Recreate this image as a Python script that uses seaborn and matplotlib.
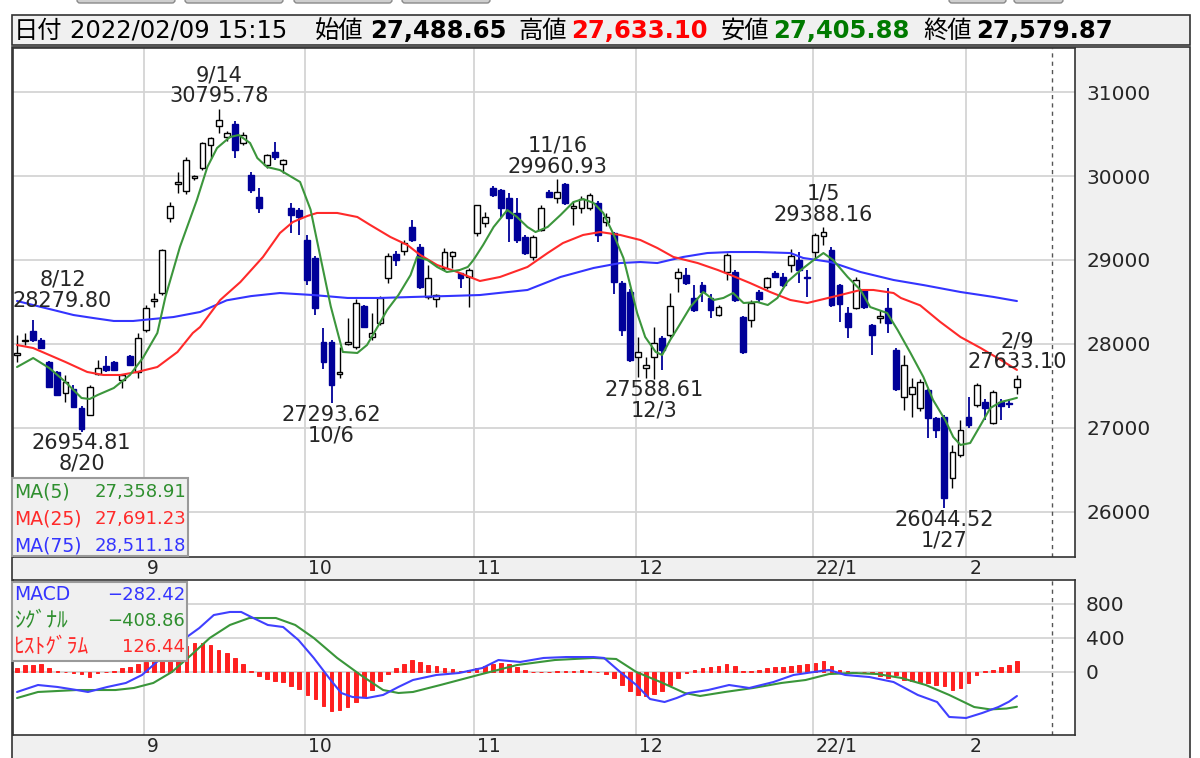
import numpy as np
import pandas as pd
import matplotlib
matplotlib.use('Agg')
import matplotlib.pyplot as plt
import matplotlib.transforms as mtransforms
from matplotlib.patches import Rectangle, FancyBboxPatch
import seaborn as sns

sns.set_style('white')
plt.rcParams['font.family'] = ['DejaVu Sans', 'Noto Sans CJK JP']

# trading days of the Tokyo market (holidays removed)
holidays = ['2021-09-20', '2021-09-23', '2021-11-03', '2021-11-23',
            '2021-12-31', '2022-01-03', '2022-01-10']
dates = pd.bdate_range('2021-08-10', '2022-02-09', freq='C', holidays=holidays)

# daily candles
opens = [27870, 28030, 28160, 28050, 27790, 27667, 27417, 27470, 27240, 27160,
         27640, 27735, 27780, 27575, 27855, 27670, 28170, 28510, 28610, 29500,
         29910, 29820, 29980, 30095, 30370, 30590, 30470, 30620, 30395, 30010,
         29750, 30131, 30286, 30143, 29620, 29595, 29240, 29020, 28024, 28024,
         27640, 28000, 27970, 28450, 28085, 28250, 28790, 29070, 29110, 29390,
         29150, 28560, 28540, 28900, 29050, 28840, 28800, 29320, 29440, 29860,
         29830, 29740, 29560, 29270, 29030, 29360, 29810, 29740, 29900, 29620,
         29620, 29620, 29680, 29450, 29320, 28730, 28620, 27850, 27715, 27840,
         28070, 28110, 28790, 28820, 28550, 28700, 28550, 28345, 28860, 28860,
         28320, 28290, 28620, 28680, 28850, 28800, 28940, 29000, 28800, 29090,
         29280, 29120, 28700, 28370, 28430, 28640, 28230, 28310, 28430, 27930,
         27370, 27400, 27240, 27450, 27120, 27131, 26400, 26680, 27130, 27275,
         27310, 27060, 27310, 27300, 27488.65]
highs = [28107, 28131, 28279.80, 28070, 27800, 27680, 27631, 27512, 27260, 27510,
         27810, 27860, 27800, 27640, 27870, 28130, 28470, 28610, 29130, 29690,
         30050, 30230, 30010, 30400, 30460, 30795.78, 30530, 30650, 30520, 30050,
         29860, 30260, 30400, 30200, 29680, 29620, 29300, 29050, 28190, 28050,
         27960, 28310, 28530, 28470, 28370, 28570, 29080, 29110, 29240, 29480,
         29190, 28940, 28600, 29140, 29110, 28850, 28900, 29660, 29570, 29880,
         29850, 29800, 29740, 29300, 29300, 29650, 29830, 29960.93, 29920, 29700,
         29760, 29800, 29700, 29560, 29330, 28750, 28650, 28080, 27850, 28200,
         28090, 28610, 28900, 28900, 28700, 28740, 28600, 28460, 29080, 28880,
         28330, 28520, 28640, 28800, 28870, 28850, 29130, 29100, 28880, 29320,
         29388.16, 29150, 28720, 28440, 28800, 28660, 28240, 28400, 28670, 27950,
         27870, 27600, 27580, 27470, 27130, 27150, 26800, 27100, 27370, 27530,
         27350, 27450, 27350, 27350, 27633.10]
lows = [27786, 27988, 28020, 27940, 27480, 27380, 27310, 27240, 26954.81, 27150,
        27630, 27670, 27680, 27480, 27740, 27600, 28140, 28440, 28580, 29450,
        29800, 29780, 29950, 30070, 30214, 30510, 30420, 30210, 30370, 29800,
        29560, 30100, 30190, 30040, 29321, 29298, 28700, 28345, 27700, 27293.62,
        27590, 27990, 27940, 28190, 28050, 28230, 28730, 28930, 29060, 29210,
        28650, 28540, 28440, 28880, 28900, 28670, 28440, 29290, 29390, 29750,
        29510, 29210, 29200, 29060, 29000, 29340, 29740, 29680, 29650, 29420,
        29560, 29590, 29210, 29400, 28600, 28100, 27780, 27610, 27600, 27588.61,
        27690, 28080, 28620, 28700, 28380, 28500, 28310, 28330, 28760, 28500,
        27880, 28200, 28500, 28650, 28790, 28680, 28860, 28730, 28560, 29000,
        29180, 28440, 28260, 28070, 28420, 28420, 27870, 28250, 28130, 27440,
        27210, 27130, 27200, 26880, 26880, 26044.52, 26280, 26650, 27000, 27250,
        27100, 27050, 27100, 27240, 27405.88]
closes = [27895, 28048, 28050, 27950, 27490, 27393, 27548, 27250, 26990, 27490,
          27710, 27685, 27690, 27630, 27750, 28070, 28430, 28540, 29120, 29640,
          29930, 30190, 30000, 30390, 30450, 30670, 30510, 30310, 30490, 29835,
          29620, 30250, 30226, 30190, 29536, 29512, 28760, 28430, 27786, 27512,
          27670, 28020, 28490, 28200, 28130, 28550, 29050, 29000, 29200, 29240,
          28680, 28790, 28580, 29100, 29100, 28790, 28880, 29650, 29510, 29770,
          29620, 29500, 29240, 29080, 29270, 29620, 29750, 29810, 29680, 29640,
          29730, 29770, 29300, 29510, 28740, 28170, 27810, 27900, 27750, 28010,
          27930, 28450, 28860, 28730, 28400, 28620, 28400, 28440, 29060, 28520,
          27905, 28490, 28540, 28790, 28800, 28700, 29050, 28880, 28790, 29300,
          29330, 28460, 28480, 28200, 28760, 28440, 28110, 28330, 28250, 27460,
          27750, 27490, 27550, 27120, 26980, 26170, 26720, 26980, 27040, 27510,
          27240, 27430, 27260, 27280, 27579.87]

# moving averages (day index, value)
ma5_pos = [0, 2, 4, 6, 8, 9, 10, 12, 14, 15.6, 17.4, 18.4, 20.2, 22.3, 23.6, 24.8,
           26.4, 27.5, 28.9, 29.8, 31, 32.6, 35.1, 36.4, 37.7, 38.9, 40.4, 42.2,
           43.4, 44.7, 45.9, 47.3, 48.8, 49.6, 50.9, 52.1, 53.3, 54.9, 55.9, 56.6,
           57.8, 59.1, 60.8, 62, 63.3, 64.3, 65.8, 67.4, 69, 70.2, 71.5, 72.7,
           73.9, 75.2, 76.1, 76.9, 77.9, 79.2, 80, 81, 82, 83.5, 85.1, 86.4, 87.6,
           88.8, 90.1, 91.8, 93.1, 94.3, 95.5, 97.2, 98.8, 100, 101.2, 103, 104.6,
           105.8, 107.9, 109.2, 110.8, 112.4, 113.6, 115.1, 116.1, 117, 118.2,
           119.5, 120.7, 122, 123, 124]
ma5_val = [27726, 27833, 27714, 27548, 27357, 27345, 27393, 27476, 27631, 27833,
           28131, 28560, 29155, 29714, 30107, 30333, 30464, 30488, 30393, 30214,
           30107, 30071, 29929, 29600, 29000, 28450, 27905, 27893, 27988, 28202,
           28405, 28583, 28821, 29036, 29000, 28917, 28857, 28881, 28917, 29000,
           29179, 29393, 29595, 29512, 29393, 29333, 29393, 29536, 29690, 29726,
           29679, 29560, 29321, 29024, 28679, 28369, 28083, 27905, 27869, 28048,
           28202, 28440, 28619, 28524, 28548, 28607, 28488, 28500, 28464, 28548,
           28738, 28881, 29000, 29083, 29000, 28798, 28643, 28440, 28369, 28167,
           27893, 27607, 27333, 27095, 26893, 26798, 26821, 27036, 27238, 27310,
           27333, 27358.91]
ma25_pos = [0, 2, 4, 6, 8.7, 10.7, 12.8, 14.9, 17.4, 19.9, 21.8, 22.7, 25.2, 27.7,
            30.5, 32.6, 34.2, 36, 37.2, 39.7, 42.2, 43.8, 46.3, 48.4, 50, 52.1,
            54.6, 57.4, 59.9, 63.3, 65.8, 67.7, 70.2, 72.3, 74.8, 77.3, 79.4, 81.4,
            84.4, 86.9, 88.5, 90.9, 93.4, 95.9, 98, 102.1, 104.6, 106.2, 108.7,
            109.6, 112, 114.5, 117, 119.5, 122, 124]
ma25_val = [27988, 27952, 27869, 27786, 27667, 27631, 27631, 27667, 27726, 27905,
            28131, 28202, 28524, 28738, 29036, 29321, 29452, 29524, 29560, 29560,
            29512, 29417, 29274, 29179, 29060, 28940, 28857, 28750, 28798, 28917,
            29083, 29202, 29298, 29333, 29298, 29238, 29143, 29036, 28964, 28881,
            28821, 28726, 28619, 28524, 28488, 28583, 28643, 28643, 28607, 28548,
            28460, 28262, 28083, 27952, 27810, 27691.23]
ma75_pos = [0, 2, 4.5, 7, 9.4, 12, 14.4, 16.9, 19.4, 22.7, 26, 29, 32.6, 36.7, 41,
            45, 49.1, 53.4, 57.4, 60, 63.3, 67.4, 71.5, 74.8, 77.3, 79.4, 82.6,
            85.6, 88.5, 91.8, 95.9, 97.5, 100.9, 104.6, 108.7, 112.5, 117, 121.1,
            124]
ma75_val = [28512, 28464, 28405, 28345, 28310, 28274, 28274, 28298, 28321, 28381,
            28520, 28570, 28607, 28583, 28548, 28548, 28560, 28571, 28583, 28610,
            28643, 28798, 28905, 28964, 28976, 28964, 29036, 29083, 29095, 29095,
            29083, 29024, 28976, 28857, 28762, 28700, 28619, 28560, 28511.18]

# MACD panel
macd_pos = [0, 2.6, 5, 7.4, 8.8, 11.2, 13.5, 15.5, 17.9, 20.2, 22.6, 24.4, 26.4,
            27.8, 29.3, 31.1, 33, 34.9, 36.8, 38.7, 40.2, 41.6, 43.4, 45.4, 47.3,
            49.1, 52, 54.8, 57.7, 59.7, 62.4, 65.3, 68.1, 71.5, 72.8, 74.8, 76.8,
            78.5, 80.3, 81.8, 83.3, 85.7, 88.3, 90.8, 93.8, 96.3, 98.8, 100.7,
            102.7, 105.7, 108.7, 111.7, 114.1, 115.6, 117.7, 119.7, 121.7, 123, 124]
macd_val = [-235, -153, -176, -212, -235, -176, -129, -35, 165, 353, 517, 670, 706,
            706, 635, 553, 529, 376, 165, -71, -247, -294, -306, -270, -176, -94,
            -35, -12, 47, 141, 118, 165, 176, 176, 165, 0, -153, -318, -353, -306,
            -247, -212, -153, -188, -118, -35, 0, 24, -35, -59, -118, -270, -353,
            -529, -541, -482, -412, -350, -282.42]
signal_pos = [0, 2.6, 7.4, 12.2, 14.5, 16.9, 19.2, 21.6, 23.9, 26.4, 28.8, 32.1,
              34.5, 36.8, 39.7, 42.6, 45.4, 47.3, 49.1, 52.5, 57.2, 62, 66.7, 71.5,
              74.3, 76.8, 79.8, 82.8, 84.7, 87.8, 91.3, 94.8, 97.8, 100.7, 103.7,
              106.7, 109.7, 112.7, 115.6, 118.7, 120.7, 122.7, 124]
signal_val = [-306, -235, -212, -212, -188, -129, 0, 200, 400, 553, 635, 635, 553,
              400, 165, -35, -212, -247, -235, -153, -35, 82, 141, 165, 153, 0,
              -118, -247, -282, -235, -188, -129, -94, -24, -12, -24, -71, -153,
              -270, -412, -440, -430, -408.86]
hist = [43, 82, 82, 90, 43, 12, -4, -16, -27, -55,
        -8, 4, 12, 43, 63, 90, 114, 160, 208, 247,
        270, 306, 337, 337, 318, 263, 220, 160, 90, 12,
        -47, -86, -106, -114, -160, -204, -270, -321, -396, -455,
        -447, -412, -349, -290, -212, -106, -27, 51, 98, 137,
        114, 82, 67, 51, 31, 16, 20, 43, 74, 98,
        106, 90, 59, 20, -4, -4, 0, 8, 8, 8,
        20, 10, 0, -20, -70, -149, -227, -267, -286, -255,
        -227, -149, -70, -12, 27, 43, 59, 74, 98, 74,
        16, 16, 27, 43, 63, 55, 67, 86, 98, 106,
        125, 74, 27, 8, 0, 4, -12, -51, -70, -31,
        -90, -110, -122, -129, -149, -169, -208, -188, -129, -31,
        8, 27, 59, 86, 126.44]

price_ticks = [26000, 27000, 28000, 29000, 30000, 31000]
macd_ticks = [0, 400, 800]
high_marks = [2, 25, 67, 100, 124]
low_marks = [8, 39, 79, 115]

GREEN = '#2f8f2f'
RED = '#ff2a2a'
BLUE = '#3434ff'
NAVY = '#000099'
PANEL = '#f0f0f0'

W, H = 1200, 758
fig = plt.figure(figsize=(W / 100, H / 100), dpi=100)


def px_axes(x0, y0, x1, y1):
    return fig.add_axes([x0 / W, 1 - y1 / H, (x1 - x0) / W, (y1 - y0) / H])


# background frame, header bar, tabs
bg = px_axes(0, 0, W, H)
bg.set_xlim(0, W)
bg.set_ylim(H, 0)
bg.axis('off')
bg.set_zorder(0)
bg.add_patch(Rectangle((12, 47), 1178, 720, fc=PANEL, ec='#333333', lw=1.2))
bg.add_patch(Rectangle((12, 15), 1178, 30, fc=PANEL, ec='#333333', lw=1.2))
for x0, x1 in [(77, 175), (185, 283), (294, 392), (402, 490), (949, 1006), (1014, 1063)]:
    bg.add_patch(FancyBboxPatch((x0, -6), x1 - x0, 9, boxstyle='round,pad=0,rounding_size=3',
                                fc='#cfcfcf', ec='#8a8a8a', lw=1))

n = len(closes)
idx = np.arange(n)
o = np.array(opens)
c = np.array(closes)
up = c >= o

# month boundaries
month_pos = [i for i in range(1, n) if dates[i].month != dates[i - 1].month]
month_lab = [('%d/%d' % (dates[i].year % 100, dates[i].month)) if dates[i].month == 1
             else str(dates[i].month) for i in month_pos]
grid_x = [p - 0.3 for p in month_pos]
xlim = (-0.5, 131.2)
divider = 128.4

# ---------- price panel ----------
ax = px_axes(13, 48, 1075, 557)
ax.set_zorder(1)
ax.set_facecolor('white')
for xg in grid_x:
    ax.axvline(xg, color='#d4d4d4', lw=1.3, zorder=0)
for yt in price_ticks:
    ax.axhline(yt, color='#d4d4d4', lw=1.3, zorder=0)
ax.axvline(divider, color='#555555', lw=1, ls=(0, (3, 3)), zorder=1)

ax.vlines(idx[up], np.array(lows)[up], np.array(highs)[up], color='black', lw=1, zorder=2)
ax.vlines(idx[~up], np.array(lows)[~up], np.array(highs)[~up], color=NAVY, lw=1.3, zorder=2)
body_lo = np.minimum(o, c)
body_h = np.maximum(np.abs(c - o), 6)
ax.bar(idx[up], body_h[up], bottom=body_lo[up], width=0.72, color='white',
       edgecolor='black', linewidth=1, zorder=3)
ax.bar(idx[~up], body_h[~up], bottom=body_lo[~up], width=0.72, color=NAVY,
       edgecolor=NAVY, linewidth=1, zorder=3)

sns.lineplot(x=ma75_pos, y=ma75_val, ax=ax, color=BLUE, lw=1.5, estimator=None, sort=False, zorder=4)
sns.lineplot(x=ma25_pos, y=ma25_val, ax=ax, color=RED, lw=1.5, estimator=None, sort=False, zorder=4)
sns.lineplot(x=ma5_pos, y=ma5_val, ax=ax, color='#3c963c', lw=1.5, estimator=None, sort=False, zorder=4)

for i in high_marks:
    lab = '%d/%d\n%.2f' % (dates[i].month, dates[i].day, highs[i])
    if i < 6:
        ax.annotate(lab, xy=(xlim[0], highs[i]), xytext=(0, 7), textcoords='offset points',
                    ha='left', va='bottom', multialignment='center', fontsize=15,
                    linespacing=1.05, zorder=6)
    else:
        ax.annotate(lab, xy=(i, highs[i]), xytext=(0, 2), textcoords='offset points',
                    ha='center', va='bottom', fontsize=15, linespacing=1.05, zorder=6)
for i in low_marks:
    lab = '%.2f\n%d/%d' % (lows[i], dates[i].month, dates[i].day)
    ax.annotate(lab, xy=(i, lows[i]), xytext=(0, -1), textcoords='offset points',
                ha='center', va='top', fontsize=15, linespacing=1.05, zorder=6)

ax.set_xlim(*xlim)
ax.set_ylim(25464, 31524)
ax.set_xticks([])
ax.yaxis.tick_right()
ax.set_yticks(price_ticks)
ax.set_yticklabels([str(t) for t in price_ticks])
ax.tick_params(axis='y', length=0, pad=8, labelsize=14.5)
ax.set_xlabel('')
ax.set_ylabel('')
for sp in ax.spines.values():
    sp.set_color('#333333')
    sp.set_linewidth(1.2)

# ---------- MACD panel ----------
ax2 = px_axes(13, 580, 1075, 735)
ax2.set_zorder(1)
ax2.set_facecolor('white')
for xg in grid_x:
    ax2.axvline(xg, color='#d4d4d4', lw=1.3, zorder=0)
for yt in macd_ticks:
    ax2.axhline(yt, color='#d4d4d4', lw=1.3, zorder=0)
ax2.axvline(divider, color='#555555', lw=1, ls=(0, (3, 3)), zorder=1)
ax2.bar(idx, hist, width=0.45, color='#ff2020', edgecolor='#ff2020', linewidth=0.7, zorder=2)
sns.lineplot(x=signal_pos, y=signal_val, ax=ax2, color='#3a963a', lw=1.5, estimator=None, sort=False, zorder=3)
sns.lineplot(x=macd_pos, y=macd_val, ax=ax2, color='#4040ff', lw=1.5, estimator=None, sort=False, zorder=3)
ax2.set_xlim(*xlim)
ax2.set_ylim(-741, 1082)
ax2.set_xticks([])
ax2.yaxis.tick_right()
ax2.set_yticks(macd_ticks)
ax2.set_yticklabels([str(t) for t in macd_ticks])
ax2.tick_params(axis='y', length=0, pad=8, labelsize=14.5)
ax2.set_xlabel('')
ax2.set_ylabel('')
for sp in ax2.spines.values():
    sp.set_color('#333333')
    sp.set_linewidth(1.2)

# month labels under both panels
for a in (ax, ax2):
    off = mtransforms.ScaledTranslation(0.03, -0.115, fig.dpi_scale_trans)
    for p, lab in zip(grid_x, month_lab):
        a.text(p, 0, lab, transform=a.get_xaxis_transform() + off, ha='left', va='center',
               fontsize=13.5, clip_on=False)

# ---------- overlay: header and legend boxes ----------
ov = px_axes(0, 0, W, H)
ov.set_xlim(0, W)
ov.set_ylim(H, 0)
ov.axis('off')
ov.set_zorder(5)

hdr = [('日付', 14, 'black', 'normal'),
       (dates[-1].strftime('%Y/%m/%d') + ' 15:15', 70, 'black', 'normal'),
       ('始値', 315, 'black', 'normal'),
       ('{:,.2f}'.format(opens[-1]), 370, 'black', 'bold'),
       ('高値', 518, 'black', 'normal'),
       ('{:,.2f}'.format(highs[-1]), 571, '#ff0000', 'bold'),
       ('安値', 721, 'black', 'normal'),
       ('{:,.2f}'.format(lows[-1]), 773, '#007a00', 'bold'),
       ('終値', 923, 'black', 'normal'),
       ('{:,.2f}'.format(closes[-1]), 976, 'black', 'bold')]
for txt, x, col, wt in hdr:
    ov.text(x, 31, txt, ha='left', va='center', fontsize=17.5, color=col, fontweight=wt)

ov.add_patch(Rectangle((12, 478), 176, 78, fc=PANEL, ec='#9a9a9a', lw=1.5))
ma_rows = [('MA(5)', ma5_val[-1], GREEN), ('MA(25)', ma25_val[-1], RED), ('MA(75)', ma75_val[-1], BLUE)]
for k, (name, v, col) in enumerate(ma_rows):
    y = 492 + 27 * k
    ov.text(14, y, name, ha='left', va='center', fontsize=13.5, color=col)
    ov.text(186, y, '{:,.2f}'.format(v), ha='right', va='center', fontsize=13, color=col)

ov.add_patch(Rectangle((12, 582), 175, 79, fc=PANEL, ec='#9a9a9a', lw=1.5))
macd_rows = [('MACD', macd_val[-1], BLUE, 13.5), ('ｼｸﾞﾅﾙ', signal_val[-1], GREEN, 15.5),
             ('ﾋｽﾄｸﾞﾗﾑ', hist[-1], RED, 15.5)]
for k, (name, v, col, fs) in enumerate(macd_rows):
    y = 595 + 26 * k
    ov.text(14, y, name, ha='left', va='center', fontsize=fs, color=col)
    ov.text(185, y, '{:.2f}'.format(v).replace('-', '\u2212'), ha='right', va='center',
            fontsize=13, color=col)

fig.savefig('out.png', dpi=100)
